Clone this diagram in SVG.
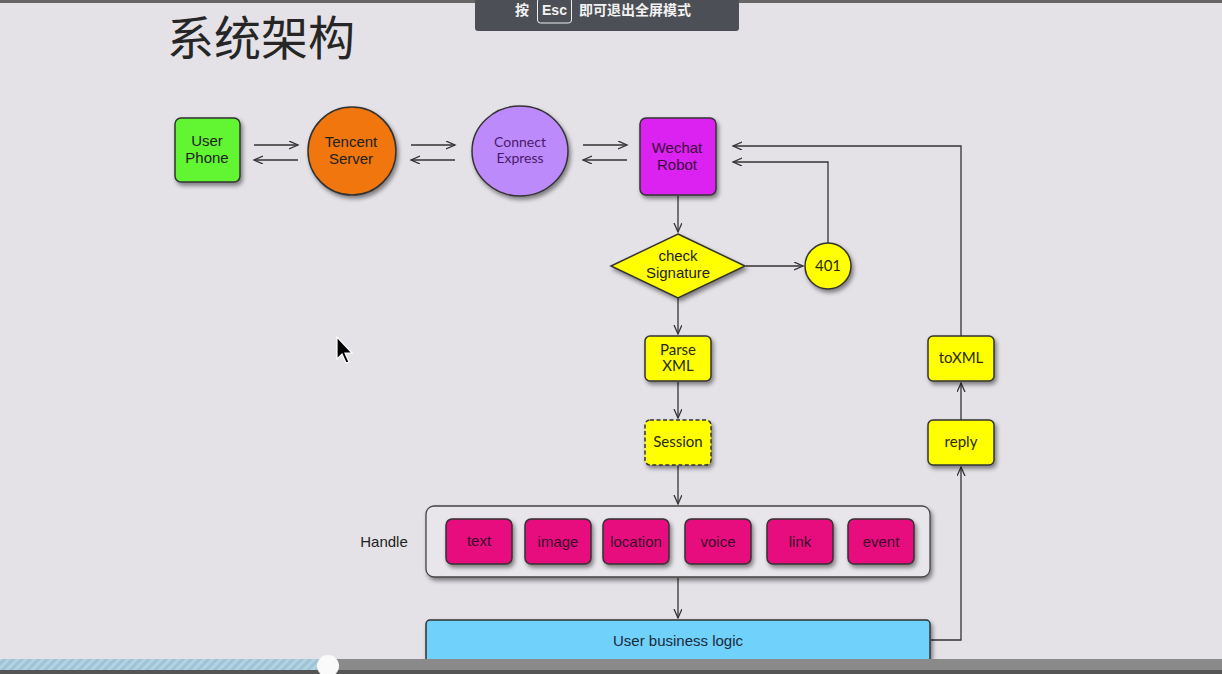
<svg xmlns="http://www.w3.org/2000/svg" width="1222" height="674" viewBox="0 0 1222 674">
<style>
.t{font-family:"Liberation Sans",Arial,sans-serif;font-size:15px;fill:#222;text-anchor:middle}
.g{font-family:"Lato","Liberation Sans",sans-serif;font-size:15px;fill:#2a2a10;text-anchor:middle}
.n{stroke:#333;stroke-width:1.5}
.c{fill:none;stroke:#333;stroke-width:1.3}
.pk{fill:#e8097f;stroke:#333;stroke-width:1.5}
.y{fill:#ffff00;stroke:#333;stroke-width:1.5}
.pt{fill:#3a0828}
</style>
<defs>
<filter id="sh" x="-20%" y="-20%" width="150%" height="160%">
<feDropShadow dx="2" dy="3" stdDeviation="2" flood-color="#000" flood-opacity="0.45"/>
</filter>
<marker id="ah" markerUnits="userSpaceOnUse" markerWidth="12" markerHeight="10" refX="9" refY="4" orient="auto">
<path d="M0,0 L9,4 L0,8" fill="none" stroke="#333" stroke-width="1.3"/>
</marker>
<pattern id="hatch" width="6" height="6" patternUnits="userSpaceOnUse" patternTransform="rotate(45)">
<rect width="6" height="6" fill="#b4d2e0"/>
<rect width="3" height="6" fill="#9dc3d6"/>
</pattern>
</defs>
<rect width="1222" height="674" fill="#e4e2e7"/>
<rect width="1222" height="3" fill="#666"/>

<g id="title">
<text x="167" y="55" font-family="'Noto Sans CJK SC',sans-serif" font-size="47" fill="#262626">系统架构</text>
</g>

<g id="connectors">
<line class="c" x1="254" y1="145" x2="298" y2="145" marker-end="url(#ah)"/>
<line class="c" x1="298" y1="160" x2="254" y2="160" marker-end="url(#ah)"/>
<line class="c" x1="411" y1="145" x2="455" y2="145" marker-end="url(#ah)"/>
<line class="c" x1="455" y1="160" x2="411" y2="160" marker-end="url(#ah)"/>
<line class="c" x1="583" y1="145" x2="627" y2="145" marker-end="url(#ah)"/>
<line class="c" x1="627" y1="160" x2="583" y2="160" marker-end="url(#ah)"/>
<line class="c" x1="678" y1="196" x2="678" y2="232" marker-end="url(#ah)"/>
<line class="c" x1="746" y1="266" x2="803" y2="266" marker-end="url(#ah)"/>
<polyline class="c" points="828,243 828,162 733,162" marker-end="url(#ah)"/>
<polyline class="c" points="961,336 961,146 733,146" marker-end="url(#ah)"/>
<line class="c" x1="678" y1="298" x2="678" y2="334" marker-end="url(#ah)"/>
<line class="c" x1="678" y1="382" x2="678" y2="418" marker-end="url(#ah)"/>
<line class="c" x1="678" y1="466" x2="678" y2="504" marker-end="url(#ah)"/>
<line class="c" x1="678" y1="578" x2="678" y2="618" marker-end="url(#ah)"/>
<polyline class="c" points="931,640 961,640 961,467" marker-end="url(#ah)"/>
<line class="c" x1="961" y1="420" x2="961" y2="383" marker-end="url(#ah)"/>
</g>

<g id="userPhone">
<rect x="175" y="118" width="65" height="64" rx="6" fill="#62f630" class="n" filter="url(#sh)"/>
<text class="t" x="207" y="146">User</text>
<text class="t" x="207" y="163">Phone</text>
</g>

<g id="tencentServer">
<circle cx="352" cy="151" r="44" fill="#f0760e" class="n" filter="url(#sh)"/>
<text class="t" x="351" y="147">Tencent</text>
<text class="t" x="351" y="164">Server</text>
</g>

<g id="connectExpress">
<ellipse cx="520" cy="151" rx="48" ry="45" fill="#bd8afc" class="n" filter="url(#sh)"/>
<text class="g" x="520" y="147" style="fill:#4a1a6a;font-size:14px">Connect</text>
<text class="g" x="520" y="163" style="fill:#4a1a6a;font-size:14px">Express</text>
</g>

<g id="wechatRobot">
<rect x="640" y="118" width="76" height="77" rx="6" fill="#dc22f0" class="n" filter="url(#sh)"/>
<text class="t" x="677" y="153" style="fill:#3a0a40">Wechat</text>
<text class="t" x="677" y="170" style="fill:#3a0a40">Robot</text>
</g>

<g id="checkSignature">
<polygon points="678,234 745,266 678,298 611,266" class="y" filter="url(#sh)"/>
<text class="t" x="678" y="261">check</text>
<text class="t" x="678" y="278">Signature</text>
</g>

<g id="n401">
<circle cx="828" cy="266" r="23" class="y" filter="url(#sh)"/>
<text class="g" x="828" y="271">401</text>
</g>

<g id="parseXML">
<rect x="645" y="336" width="66" height="45" rx="5" class="y" filter="url(#sh)"/>
<text class="g" x="678" y="355">Parse</text>
<text class="g" x="678" y="371">XML</text>
</g>

<g id="session">
<rect x="645" y="420" width="66" height="45" rx="5" class="y" stroke-dasharray="4,2.5" filter="url(#sh)"/>
<text class="g" x="678" y="447">Session</text>
</g>

<g id="toXML">
<rect x="928" y="336" width="66" height="45" rx="5" class="y" filter="url(#sh)"/>
<text class="g" x="961" y="363">toXML</text>
</g>

<g id="reply">
<rect x="928" y="420" width="66" height="45" rx="5" class="y" filter="url(#sh)"/>
<text class="g" x="961" y="447">reply</text>
</g>

<g id="handle">
<text class="t" x="384" y="547" style="fill:#222">Handle</text>
<rect x="426" y="506" width="504" height="71" rx="8" fill="#e8e6ea" stroke="#444" stroke-width="1.3" filter="url(#sh)"/>
</g>

<g id="text">
<rect x="446" y="519" width="66" height="45" rx="6" class="pk" filter="url(#sh)"/>
<text class="t pt" x="479" y="546" style="fill:#3a0828">text</text>
</g>
<g id="image">
<rect x="525" y="519" width="66" height="45" rx="6" class="pk" filter="url(#sh)"/>
<text class="t" x="558" y="547" style="fill:#3a0828">image</text>
</g>
<g id="location">
<rect x="603" y="519" width="66" height="45" rx="6" class="pk" filter="url(#sh)"/>
<text class="t" x="636" y="547" style="fill:#3a0828">location</text>
</g>
<g id="voice">
<rect x="685" y="519" width="66" height="45" rx="6" class="pk" filter="url(#sh)"/>
<text class="t" x="718" y="547" style="fill:#3a0828">voice</text>
</g>
<g id="link">
<rect x="767" y="519" width="66" height="45" rx="6" class="pk" filter="url(#sh)"/>
<text class="t" x="800" y="547" style="fill:#3a0828">link</text>
</g>
<g id="event">
<rect x="848" y="519" width="66" height="45" rx="6" class="pk" filter="url(#sh)"/>
<text class="t" x="881" y="547" style="fill:#3a0828">event</text>
</g>

<g id="userBusinessLogic">
<rect x="426" y="620" width="504" height="42" rx="4" fill="#6fd1fb" stroke="#333" stroke-width="1.5" filter="url(#sh)"/>
<text class="t" x="678" y="646" style="fill:#1a2a3a">User business logic</text>
</g>

<g id="escNotice">
<path d="M475,0 H739 V28 Q739,31 736,31 H478 Q475,31 475,28 Z" fill="#4c4f56"/>
<rect x="537.5" y="-2" width="34" height="25" rx="3" fill="none" stroke="#eee" stroke-width="1"/>
<text x="522" y="15" font-family="'Noto Sans CJK SC',sans-serif" font-size="14" font-weight="bold" fill="#f2f2f2" text-anchor="middle">按</text>
<text x="554.5" y="15" font-family="'Liberation Sans',sans-serif" font-size="14" font-weight="bold" fill="#f2f2f2" text-anchor="middle">Esc</text>
<text x="579" y="15" font-family="'Noto Sans CJK SC',sans-serif" font-size="14" font-weight="bold" fill="#f2f2f2">即可退出全屏模式</text>
</g>

<g id="cursor">
<path d="M337,337 L337,359 L342,354 L346,363 L349,362 L345,353 L352,353 Z" fill="#000" stroke="#fff" stroke-width="1.2"/>
</g>

<g id="progressBar">
<rect x="0" y="659" width="1222" height="15" fill="#8a8a8a"/>
<rect x="0" y="670" width="1222" height="4" fill="#555"/>
<rect x="0" y="659" width="328" height="11" fill="url(#hatch)"/>
<circle cx="328" cy="666" r="11" fill="#fafafa"/>
</g>
</svg>
